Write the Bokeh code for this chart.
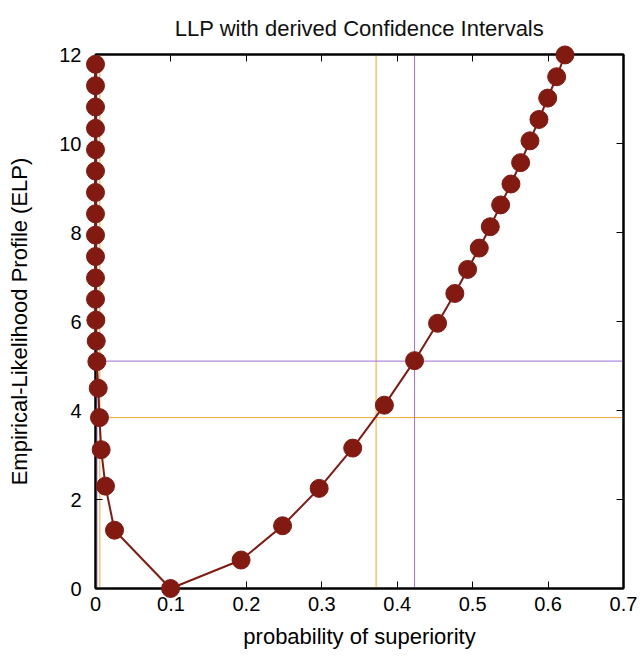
from bokeh.plotting import figure
from bokeh.models import FixedTicker, LinearAxis, Span, Range1d
from bokeh.core.properties import value
from bokeh.embed import file_html
from bokeh.resources import INLINE

# ---- data ----
x_vals = [0.0, 0.0, 0.0, 0.0, 0.0, 0.0, 0.0, 0.0, 0.0, 0.0, 0.0, 0.0,
          0.0005, 0.0010, 0.0018, 0.0036, 0.0053, 0.0075, 0.0132, 0.0252,
          0.0995,
          0.193, 0.248, 0.2965, 0.341, 0.383, 0.423, 0.4535, 0.4764, 0.4933,
          0.5088, 0.5234, 0.5371, 0.5508, 0.5636, 0.576, 0.5879, 0.5995,
          0.6114, 0.6224]
elp_vals = [11.78, 11.30, 10.82, 10.34, 9.86, 9.38, 8.90, 8.42, 7.94, 7.46, 6.98, 6.50,
            6.03, 5.56, 5.10, 4.50, 3.84, 3.12, 2.30, 1.31,
            0.0,
            0.64, 1.41, 2.25, 3.155, 4.12, 5.12, 5.96, 6.63, 7.17,
            7.65, 8.13, 8.62, 9.09, 9.57, 10.06, 10.54, 11.02,
            11.50, 11.99]

ci_orange_x = [0.0058, 0.372]
ci_orange_y = [3.84]
ci_purple_x = [0.0019, 0.423]
ci_purple_y = [5.11]

x_ticks = [0, 0.1, 0.2, 0.3, 0.4, 0.5, 0.6, 0.7]
x_tick_labels = ["0", "0.1", "0.2", "0.3", "0.4", "0.5", "0.6", "0.7"]
y_ticks = [0, 2, 4, 6, 8, 10, 12]
y_tick_labels = ["0", "2", "4", "6", "8", "10", "12"]

TITLE = "LLP with derived Confidence Intervals"
FONT = "Liberation Sans"
DARK_RED = "#821a12"
ORANGE = "#f5a52e"
PURPLE = "#9d6fd8"

x_range = Range1d(0, 0.7)
y_range = Range1d(0, 12)

p = figure(width=643, height=657, output_backend="svg", toolbar_location=None,
           x_range=x_range, y_range=y_range,
           min_border_left=95, min_border_right=20,
           min_border_top=54, min_border_bottom=69)

p.xgrid.visible = False
p.ygrid.visible = False
p.outline_line_color = "black"
p.outline_line_width = 2
p.background_fill_color = "white"
p.border_fill_color = "white"

# title: a text glyph centred above the frame (overlay level is not clipped)
p.text(x=[(x_range.start + x_range.end) / 2], y=[y_range.end], text=[TITLE],
       y_offset=-26, text_align="center", text_baseline="alphabetic",
       text_font=value(FONT), text_font_size="22px", text_color="#111111",
       level="overlay")

# CI lines
for xv in ci_orange_x:
    p.add_layout(Span(location=xv, dimension="height", line_color=ORANGE, line_width=1, level="underlay"))
for yv in ci_orange_y:
    p.add_layout(Span(location=yv, dimension="width", line_color=ORANGE, line_width=1, level="underlay"))
for xv in ci_purple_x:
    p.add_layout(Span(location=xv, dimension="height", line_color=PURPLE, line_width=1, level="underlay"))
for yv in ci_purple_y:
    p.add_layout(Span(location=yv, dimension="width", line_color=PURPLE, line_width=1, level="underlay"))

p.line(x_vals, elp_vals, line_color=DARK_RED, line_width=2, level="overlay")
p.scatter(x_vals, elp_vals, size=18, fill_color=DARK_RED, line_color=DARK_RED,
          marker="circle", level="overlay")


def style_axis(ax, ticks, labels, show_labels=True):
    ax.ticker = FixedTicker(ticks=ticks)
    if show_labels:
        ax.major_label_overrides = {t: l for t, l in zip(ticks, labels)}
    else:
        ax.major_label_overrides = {t: "" for t in ticks}
    ax.major_tick_in = 7
    ax.major_tick_out = 0
    ax.minor_tick_line_color = None
    ax.axis_line_color = "black"
    ax.axis_line_width = 2
    ax.major_tick_line_color = "black"
    ax.major_tick_line_width = 1
    ax.major_label_text_font = FONT
    ax.major_label_text_font_size = "20px"
    ax.major_label_text_color = "black"
    ax.axis_label_text_font = FONT
    ax.axis_label_text_font_size = "22px"
    ax.axis_label_text_font_style = "normal"
    ax.axis_label_text_color = "black"


xa = p.xaxis[0]
style_axis(xa, x_ticks, x_tick_labels)
xa.axis_label = "probability of superiority"
xa.major_label_standoff = 8
xa.axis_label_standoff = 10

ya = p.yaxis[0]
style_axis(ya, y_ticks, y_tick_labels)
ya.axis_label = "Empirical-Likelihood Profile (ELP)"
ya.major_label_standoff = 14
ya.axis_label_standoff = 24

top_ax = LinearAxis()
style_axis(top_ax, x_ticks, x_tick_labels, show_labels=False)
top_ax.major_label_standoff = 0
p.add_layout(top_ax, "above")
right_ax = LinearAxis()
style_axis(right_ax, y_ticks, y_tick_labels, show_labels=False)
right_ax.major_label_standoff = 0
p.add_layout(right_ax, "right")

open("out.html", "w").write(file_html(p, INLINE))
